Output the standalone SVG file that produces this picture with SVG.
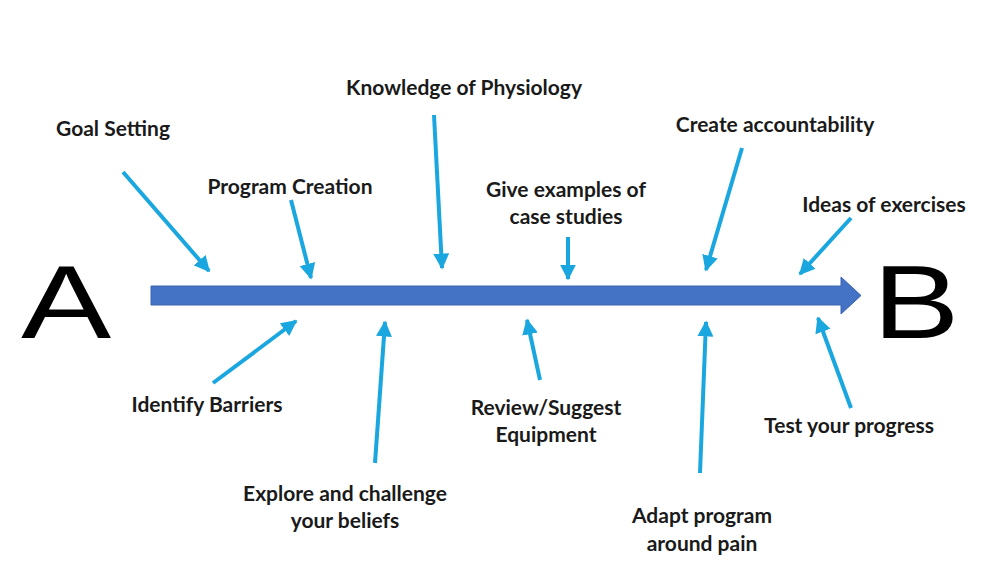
<svg xmlns="http://www.w3.org/2000/svg" width="1000" height="585" viewBox="0 0 1000 585">
<defs>
<marker id="ah" viewBox="0 0 10 10" refX="9" refY="5" markerWidth="4" markerHeight="4" markerUnits="strokeWidth" orient="auto">
<path d="M0,0 L10,5 L0,10 Z" fill="#1AA7E0"/>
</marker>
<style>
.lbl{font-family:Lato,"Liberation Sans",sans-serif;font-weight:bold;font-size:21px;fill:#1a1a1a;text-anchor:middle}
.con{stroke:#1AA7E0;stroke-width:4;fill:none;marker-end:url(#ah)}
.big{font-family:"Liberation Sans",sans-serif;font-size:104px;fill:#000;text-anchor:middle}
</style>
</defs>
<rect width="1000" height="585" fill="#fff"/>
<g id="spine">
<path d="M151,286 H841 V277 L861,295.5 L841,314 V305 H151 Z" fill="#4472C4" stroke="#3A64B0" stroke-width="1"/>
</g>
<g id="nodeA"><text class="big" x="0" y="0" transform="translate(66,338) scale(1.3,1)">A</text></g>
<g id="nodeB"><text class="big" x="0" y="0" transform="translate(916,338) scale(1.25,1)">B</text></g>
<g id="connectors">
<line class="con" x1="123" y1="172" x2="209" y2="271"/>
<line class="con" x1="291" y1="200" x2="311" y2="278"/>
<line class="con" x1="434" y1="115" x2="442" y2="268"/>
<line class="con" x1="568" y1="237" x2="568" y2="279"/>
<line class="con" x1="742" y1="148" x2="706" y2="270"/>
<line class="con" x1="851" y1="218" x2="800" y2="274"/>
<line class="con" x1="213" y1="383" x2="296" y2="321"/>
<line class="con" x1="375" y1="463" x2="385" y2="322"/>
<line class="con" x1="540" y1="380" x2="527" y2="320"/>
<line class="con" x1="700" y1="473" x2="706" y2="322"/>
<line class="con" x1="851" y1="408" x2="818" y2="318"/>
</g>
<g id="goal"><text class="lbl" x="113" y="136">Goal Setting</text></g>
<g id="program"><text class="lbl" x="290" y="194">Program Creation</text></g>
<g id="knowledge"><text class="lbl" x="464" y="95">Knowledge of Physiology</text></g>
<g id="examples"><text class="lbl" x="566" y="197">Give examples of</text><text class="lbl" x="566" y="224">case studies</text></g>
<g id="accountability"><text class="lbl" x="775" y="132">Create accountability</text></g>
<g id="ideas"><text class="lbl" x="884" y="212">Ideas of exercises</text></g>
<g id="barriers"><text class="lbl" x="207" y="412">Identify Barriers</text></g>
<g id="explore"><text class="lbl" x="345" y="501">Explore and challenge</text><text class="lbl" x="345" y="528">your beliefs</text></g>
<g id="review"><text class="lbl" x="546" y="415">Review/Suggest</text><text class="lbl" x="546" y="442">Equipment</text></g>
<g id="adapt"><text class="lbl" x="702" y="523">Adapt program</text><text class="lbl" x="702" y="551">around pain</text></g>
<g id="test"><text class="lbl" x="849" y="433">Test your progress</text></g>
</svg>
